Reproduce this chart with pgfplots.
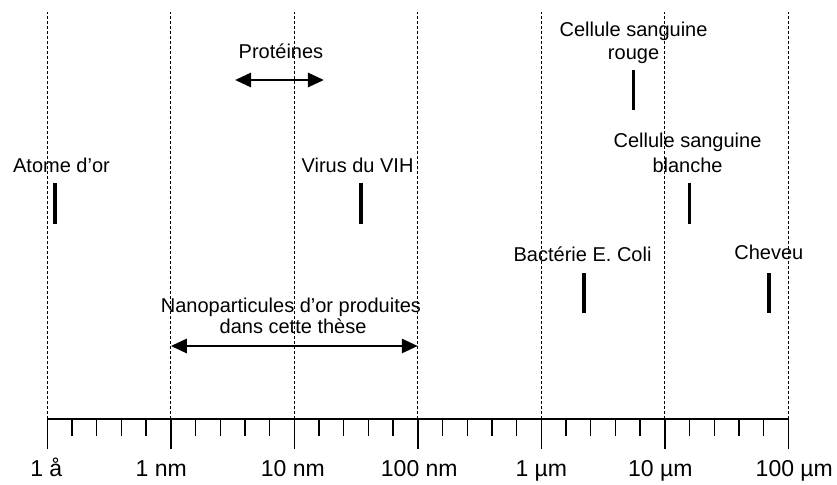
\documentclass[border=0pt]{standalone}
\usepackage{fontspec}
\setmainfont{Liberation Sans}
\usepackage{pgfplots}
\pgfplotsset{compat=1.18}
\usetikzlibrary{arrows.meta}
\tikzset{lab/.style={font=\fontsize{20bp}{23bp}\selectfont, anchor=base, inner sep=0pt}}
\begin{document}
\begin{tikzpicture}
\begin{axis}[
  x=123.5bp, y=1bp,
  xmin=-10, xmax=-4, ymin=0, ymax=407,
  clip=false,
  axis y line=none,
  axis x line=bottom,
  x axis line style={-, line width=1.4bp, black},
  xtick={-10,-9,-8,-7,-6,-5,-4},
  xticklabels={\mbox{1 å\hspace{2bp}},\mbox{1 nm\hspace{19bp}},\mbox{10 nm\hspace{3bp}},\mbox{\hspace{3bp}100 nm},\mbox{1 µm},\mbox{10 µm\hspace{9bp}},\mbox{\hspace{12bp}100 µm}},
  minor x tick num=4,
  tick align=outside,
  major tick length=30bp,
  minor tick length=17bp,
  every tick/.style={black, line width=1.4bp},
  xticklabel style={font=\fontsize{23bp}{25bp}\selectfont, anchor=base, yshift=-27bp},
  xmajorgrids,
  major grid style={black, line width=1bp, dash pattern=on 3bp off 2bp},
  ytick=\empty,
]
\path (axis cs:-10.383,-60) rectangle (axis cs:-3.6057,419);
% markers (vertical bars)
\addplot[black, line width=3.6bp] coordinates {(-9.94,195) (-9.94,236)};
\addplot[black, line width=3.6bp] coordinates {(-7.46,195) (-7.46,236)};
\addplot[black, line width=3.6bp] coordinates {(-5.255,309) (-5.255,349)};
\addplot[black, line width=3.6bp] coordinates {(-4.80,195) (-4.80,236)};
\addplot[black, line width=3.6bp] coordinates {(-5.652,106) (-5.652,146)};
\addplot[black, line width=3.6bp] coordinates {(-4.154,106) (-4.154,146)};
% ranges (double arrows)
\addplot[black, line width=2.8bp, {Triangle[length=16bp,width=14bp]}-{Triangle[length=16bp,width=14bp]}] coordinates {(-8.48,339) (-7.76,339)};
\addplot[black, line width=2.8bp, {Triangle[length=16bp,width=14bp]}-{Triangle[length=16bp,width=14bp]}] coordinates {(-9,73) (-7,73)};
% labels
\node[lab] at (axis cs:-8.108,360) {Protéines};
\node[lab] at (axis cs:-9.885,246) {Atome d'or};
\node[lab] at (axis cs:-7.488,246) {Virus du VIH};
\node[lab] at (axis cs:-5.253,382) {Cellule sanguine};
\node[lab] at (axis cs:-5.253,359) {rouge};
\node[lab] at (axis cs:-4.816,271) {Cellule sanguine};
\node[lab] at (axis cs:-4.816,246) {blanche};
\node[lab] at (axis cs:-5.666,157) {Bactérie E. Coli};
\node[lab] at (axis cs:-4.158,159) {Cheveu};
\node[lab] at (axis cs:-8.027,106) {Nanoparticules d'or produites};
\node[lab] at (axis cs:-8.01,85) {dans cette thèse};
\end{axis}
\end{tikzpicture}
\end{document}
